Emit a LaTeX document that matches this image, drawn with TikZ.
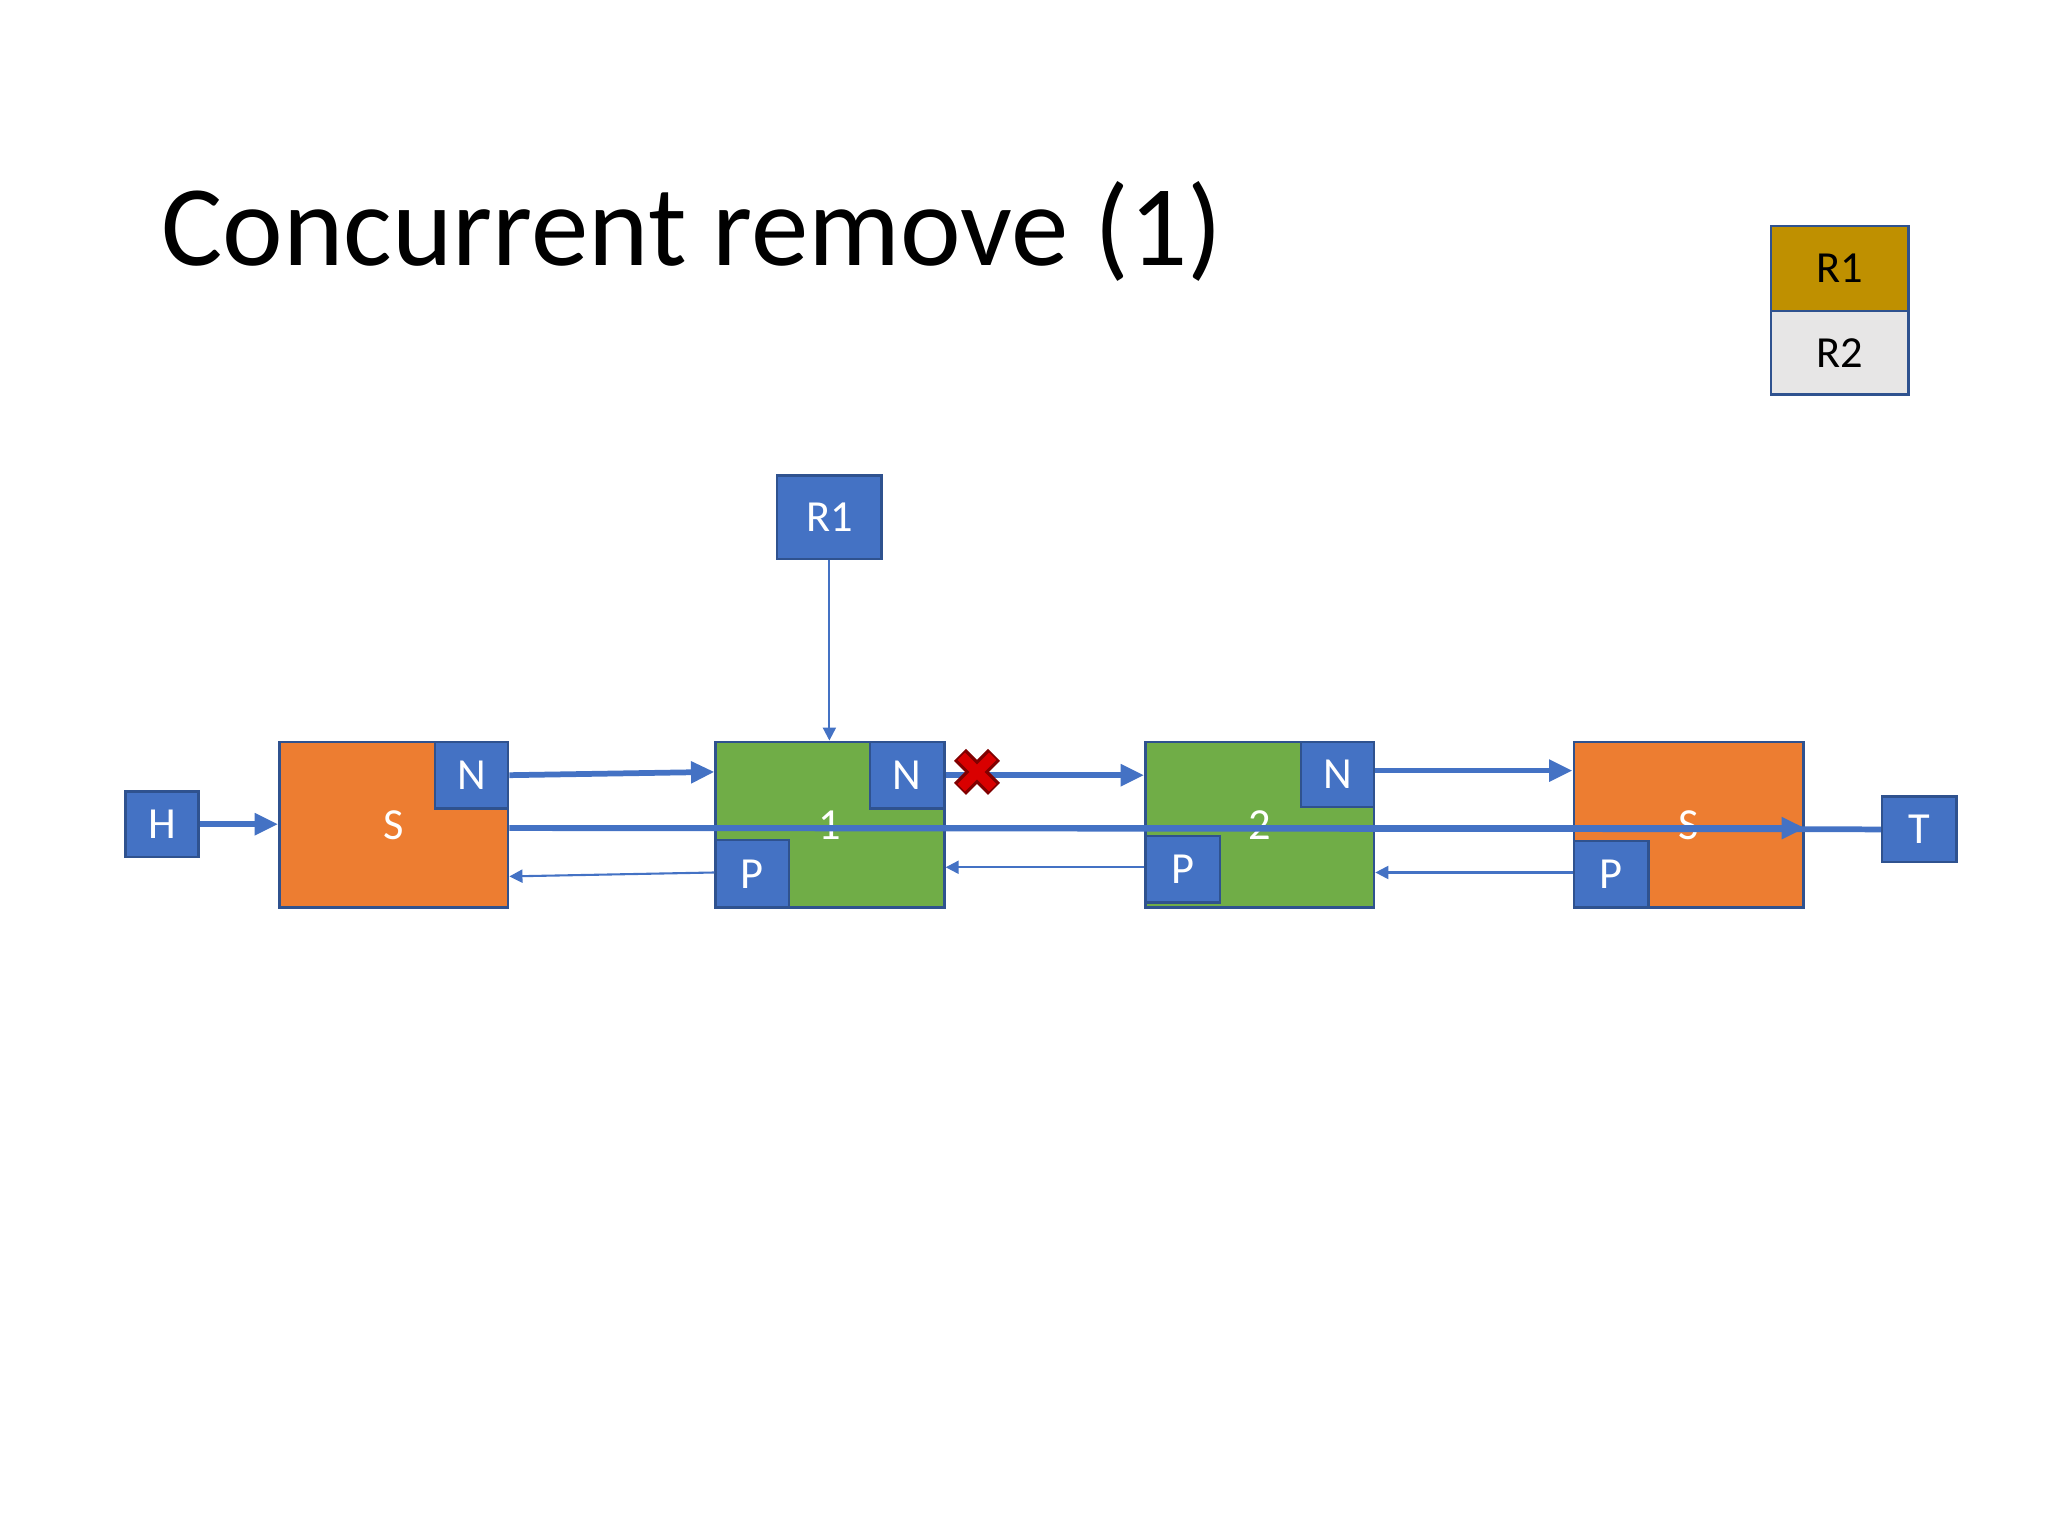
\documentclass[tikz,border=0pt]{standalone}
\usepackage{fontspec}
\setmainfont{Carlito}
\usetikzlibrary{arrows.meta}
\definecolor{ptrblue}{RGB}{68,114,196}
\definecolor{edgeblue}{RGB}{47,82,143}
\definecolor{sentorange}{RGB}{237,125,49}
\definecolor{itemgreen}{RGB}{112,173,71}
\definecolor{lockgold}{RGB}{191,144,0}
\definecolor{lockgrey}{RGB}{231,230,230}
\tikzset{every picture/.style={line width=0.75pt}}
\tikzset{
  box/.style={draw=edgeblue, line width=1pt, anchor=north west, inner sep=0pt, font=\fontsize{17}{17}\selectfont},
  ptr/.style={box, fill=ptrblue, text=white},
  link/.style={draw=ptrblue, line width=2.2pt, -{Triangle[length=9pt,width=8pt]}},
  back/.style={draw=ptrblue, line width=0.8pt, -{Triangle[length=5pt,width=5pt]}}
}
\begin{document}
\begin{tikzpicture}[x=0.5pt,y=0.5pt,yscale=-1,xscale=1]
\useasboundingbox (0,0) rectangle (1568,1176);

% title
\node [anchor=base west, inner sep=0pt, font=\fontsize{44}{44}\selectfont] (title) at (123,203) {Concurrent remove (1)};

% legend
\node [box, fill=lockgold, minimum width=52.5pt, minimum height=32.5pt] (legA) at (1355,172) {R1};
\node [box, fill=lockgrey, minimum width=52.5pt, minimum height=32pt] (legB) at (1355,237) {R2};

% list nodes
\node [box, fill=sentorange, text=white, minimum width=87.5pt, minimum height=63.5pt] (head) at (213,567) {S};
\node [box, fill=itemgreen, text=white, minimum width=87.5pt, minimum height=63.5pt] (one) at (547,567) {1};
\node [box, fill=itemgreen, text=white, minimum width=87.5pt, minimum height=63.5pt] (two) at (876,567) {2};
\node [box, fill=sentorange, text=white, minimum width=88pt, minimum height=63.5pt] (tail) at (1204,567) {S};

% N / P fields
\node [ptr, minimum width=28pt, minimum height=25.5pt] (headN) at (332,567) {N};
\node [ptr, minimum width=28.5pt, minimum height=25.5pt] (oneN) at (665,567) {N};
\node [ptr, minimum width=28pt, minimum height=26pt] (oneP) at (547,642) {P};
\node [ptr, minimum width=28pt, minimum height=25pt] (twoN) at (995,567) {N};
\node [ptr, minimum width=28.5pt, minimum height=25.5pt] (twoP) at (876,639) {P};
\node [ptr, minimum width=28.5pt, minimum height=25.5pt] (tailP) at (1204,643) {P};

% pointers
\node [ptr, minimum width=40pt, minimum height=32pt] (lock) at (594,363) {R1};
\node [ptr, minimum width=28pt, minimum height=25pt] (hd) at (95,605) {H};
\node [ptr, minimum width=28.5pt, minimum height=25pt] (tl) at (1440,609) {T};

% connectors
\draw [back] (lock.south) -- (one.north -| lock.south);
\draw [link] (hd.east) -- (hd.east -| head.west);
\draw [link] (tl.west) -- (head.east |- 0,634) -- (tail.east |- 0,634);
\draw [link] (headN.east) -- (one.west |- 0,591);
\draw [link] (oneN.east) -- (two.west |- oneN.east);
\draw [link] (twoN.east |- 0,590) -- (tail.west |- 0,590);
\draw [back] (oneP.west |- 0,668) -- (head.east |- 0,671);
\draw [back] (two.west |- 0,664) -- (one.east |- 0,664);
\draw [back] (tail.west |- 0,668) -- (two.east |- 0,668);

% cut mark
\coordinate (cut) at (748,591);
\draw [draw=red!50!black, line width=6.5pt] ([shift={(-13,-13)}]cut) -- ([shift={(13,13)}]cut) ([shift={(-13,13)}]cut) -- ([shift={(13,-13)}]cut);
\draw [draw=red!85!black, line width=4pt] ([shift={(-12,-12)}]cut) -- ([shift={(12,12)}]cut) ([shift={(-12,12)}]cut) -- ([shift={(12,-12)}]cut);

\end{tikzpicture}
\end{document}
